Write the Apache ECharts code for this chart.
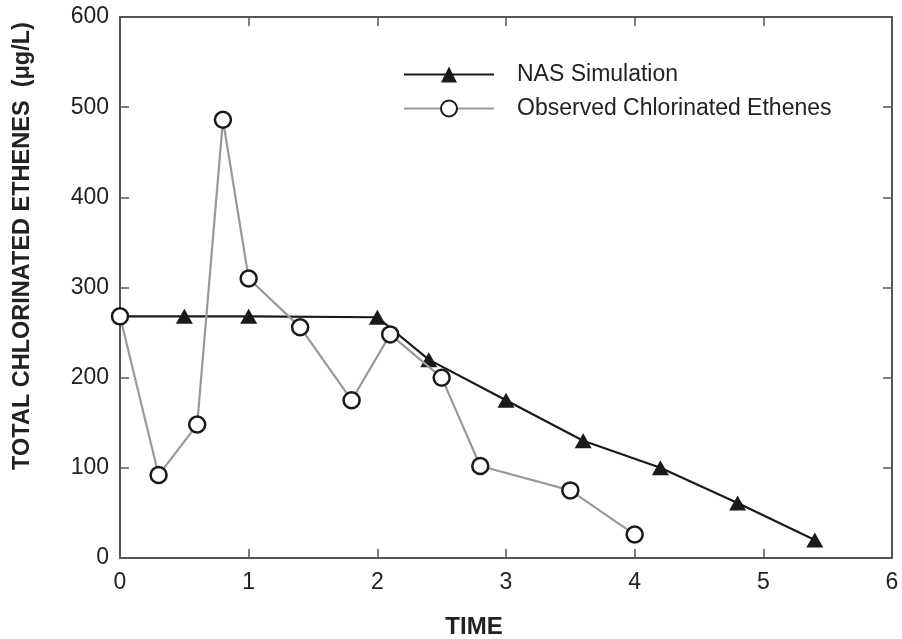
<!DOCTYPE html>
<html>
<head>
<meta charset="utf-8">
<script src="https://cdn.jsdelivr.net/npm/echarts@6/dist/echarts.min.js"></script>
<style>
  html, body { margin: 0; padding: 0; background: #fff; }
  #chart { width: 902px; height: 639px; }
</style>
</head>
<body>
<div id="chart"></div>
<script>
// NAS simulation (time, total chlorinated ethenes ug/L)
var nasTime = [0, 0.5, 1, 2, 2.4, 3, 3.6, 4.2, 4.8, 5.4];
var nasValue = [268, 268, 268, 267, 220, 175, 130, 100, 61, 20];
var nasSymbol = ['none', 'triangle', 'triangle', 'triangle', 'triangle', 'triangle', 'triangle', 'triangle', 'triangle', 'triangle'];

// observed chlorinated ethenes
var obsTime = [0, 0.3, 0.6, 0.8, 1.0, 1.4, 1.8, 2.1, 2.5, 2.8, 3.5, 4.0];
var obsValue = [268, 92, 148, 486, 310, 256, 175, 248, 200, 102, 75, 26];

var xTicks = [0, 1, 2, 3, 4, 5, 6];
var yTicks = [0, 100, 200, 300, 400, 500, 600];

var font = '"Liberation Sans", Arial, Helvetica, sans-serif';

function pairs(xs, ys) {
    var out = [];
    for (var i = 0; i < xs.length; i++) out.push([xs[i], ys[i]]);
    return out;
}

var nasData = pairs(nasTime, nasValue).map(function (p, i) {
    return { value: p, symbol: nasSymbol[i] };
});

var axisLine = { show: true, onZero: false, lineStyle: { color: '#555', width: 2 } };
var tick = { show: true, inside: true, length: 9, lineStyle: { color: '#555', width: 1.5 } };
var label = { color: '#222', fontFamily: font, fontSize: 23 };

var chart = echarts.init(document.getElementById('chart'));
chart.setOption({
    animation: false,
    backgroundColor: '#fff',
    grid: { left: 120, right: 10, top: 17, bottom: 81, containLabel: false },
    legend: {
        left: 398, top: 58, orient: 'vertical',
        itemWidth: 90, itemHeight: 20, itemGap: 11,
        textStyle: { fontFamily: font, fontSize: 23, color: '#222', padding: [0, 0, 0, 18] },
        data: ['NAS Simulation', 'Observed Chlorinated Ethenes']
    },
    xAxis: [{
        type: 'value', min: 0, max: 6, interval: 1,
        axisLine: axisLine, axisTick: tick,
        axisLabel: Object.assign({ margin: 13, formatter: function (v) { return xTicks.indexOf(v) >= 0 ? v : ''; } }, label),
        splitLine: { show: false }
    }, {
        type: 'value', min: 0, max: 6, interval: 1, position: 'top',
        axisLine: axisLine, axisTick: tick, axisLabel: { show: false }, splitLine: { show: false }
    }],
    yAxis: [{
        type: 'value', min: 0, max: 600, interval: 100,
        axisLine: axisLine, axisTick: tick,
        axisLabel: Object.assign({ margin: 11, formatter: function (v) { return yTicks.indexOf(v) >= 0 ? v : ''; } }, label),
        splitLine: { show: false }
    }, {
        type: 'value', min: 0, max: 600, interval: 100, position: 'right',
        axisLine: axisLine, axisTick: tick, axisLabel: { show: false }, splitLine: { show: false }
    }],
    graphic: [{
        type: 'text', x: 474, y: 627,
        style: { text: 'TIME', fill: '#222', font: 'bold 24px ' + font, align: 'center', verticalAlign: 'middle' }
    }, {
        type: 'text', x: 23, y: 246, rotation: Math.PI / 2,
        style: {
            text: 'TOTAL CHLORINATED ETHENES  (\u03bcg/L)', fill: '#222',
            font: 'bold 23.5px ' + font, align: 'center', verticalAlign: 'middle'
        }
    }],
    series: [{
        name: 'NAS Simulation',
        type: 'line',
        data: nasData,
        symbol: 'triangle', symbolSize: [17, 15],
        showAllSymbol: true,
        z: 3,
        lineStyle: { color: '#1a1a1a', width: 2.2 },
        itemStyle: { color: '#1a1a1a', borderWidth: 0 }
    }, {
        name: 'Observed Chlorinated Ethenes',
        type: 'line',
        data: pairs(obsTime, obsValue),
        symbol: 'circle', symbolSize: 16,
        showAllSymbol: true,
        z: 4,
        lineStyle: { color: '#999', width: 2.2 },
        itemStyle: { color: '#fff', borderColor: '#1a1a1a', borderWidth: 2.5 }
    }]
});
</script>
</body>
</html>
